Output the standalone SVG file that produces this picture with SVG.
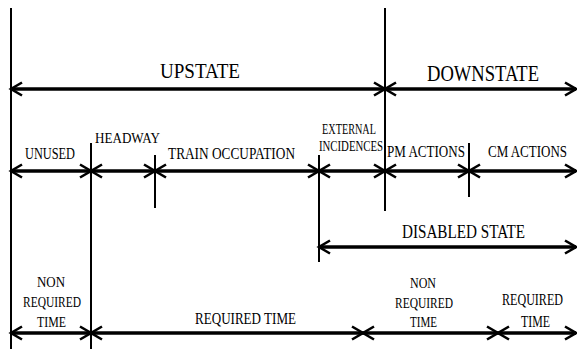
<svg xmlns="http://www.w3.org/2000/svg" width="577" height="349" viewBox="0 0 577 349">
<defs>
<marker id="ah" markerUnits="userSpaceOnUse" viewBox="-14 -9 16 18" refX="0" refY="0" markerWidth="16" markerHeight="18" orient="auto-start-reverse" overflow="visible">
<path d="M-11,-6.5 L0,0 L-11,6.5" fill="none" stroke="#000" stroke-width="2.6" stroke-linejoin="miter"/>
</marker>
<style>
.v{stroke:#000;stroke-width:2;fill:none}
.a{stroke:#000;stroke-width:3.4;fill:none;marker-start:url(#ah);marker-end:url(#ah)}
.t{font-family:"Liberation Serif","Times New Roman",serif;fill:#000}
</style>
</defs>
<rect width="577" height="349" fill="#fff"/>
<g id="boundaries">
<line class="v" x1="11" y1="8" x2="11" y2="349"/>
<line class="v" x1="385" y1="8" x2="385" y2="211"/>
<line class="v" x1="91" y1="143" x2="91" y2="349"/>
<line class="v" x1="155" y1="155" x2="155" y2="208"/>
<line class="v" x1="319" y1="155" x2="319" y2="262"/>
<line class="v" x1="469" y1="143" x2="469" y2="197"/>
</g>
<g id="connectors">
<line class="a" x1="11" y1="89" x2="385" y2="89"/>
<line class="a" x1="385" y1="89" x2="576" y2="89"/>
<line class="a" x1="11" y1="171" x2="91" y2="171"/>
<line class="a" x1="91" y1="171" x2="155" y2="171"/>
<line class="a" x1="155" y1="171" x2="319" y2="171"/>
<line class="a" x1="319" y1="171" x2="385" y2="171"/>
<line class="a" x1="385" y1="171" x2="469" y2="171"/>
<line class="a" x1="469" y1="171" x2="576" y2="171"/>
<line class="a" x1="319" y1="247" x2="576" y2="247"/>
<line class="a" x1="11" y1="333" x2="91" y2="333"/>
<line class="a" x1="91" y1="333" x2="363" y2="333"/>
<line class="a" x1="363" y1="333" x2="498" y2="333"/>
<line class="a" x1="498" y1="333" x2="576" y2="333"/>
</g>
<g class="t" font-family="Liberation Serif, Times New Roman, serif">
<g id="upstate"><text x="160" y="78" font-size="22" textLength="80" lengthAdjust="spacingAndGlyphs">UPSTATE</text></g>
<g id="downstate"><text x="427" y="81" font-size="23" textLength="112" lengthAdjust="spacingAndGlyphs">DOWNSTATE</text></g>
<g id="unused"><text x="25" y="159" font-size="16" textLength="50" lengthAdjust="spacingAndGlyphs">UNUSED</text></g>
<g id="headway"><text x="95" y="143" font-size="15" textLength="65" lengthAdjust="spacingAndGlyphs">HEADWAY</text></g>
<g id="train-occupation"><text x="168" y="159" font-size="16" textLength="127" lengthAdjust="spacingAndGlyphs">TRAIN OCCUPATION</text></g>
<g id="external-incidences">
<text x="322" y="134" font-size="14" textLength="54" lengthAdjust="spacingAndGlyphs">EXTERNAL</text>
<text x="319" y="151" font-size="14" textLength="64" lengthAdjust="spacingAndGlyphs">INCIDENCES</text>
</g>
<g id="pm-actions"><text x="387" y="157" font-size="17" textLength="78" lengthAdjust="spacingAndGlyphs">PM ACTIONS</text></g>
<g id="cm-actions"><text x="488" y="157" font-size="17" textLength="79" lengthAdjust="spacingAndGlyphs">CM ACTIONS</text></g>
<g id="disabled-state"><text x="402" y="238" font-size="19" textLength="123" lengthAdjust="spacingAndGlyphs">DISABLED STATE</text></g>
<g id="non-required-time-1">
<text x="37" y="287" font-size="15" textLength="28" lengthAdjust="spacingAndGlyphs">NON</text>
<text x="23" y="307" font-size="15" textLength="58" lengthAdjust="spacingAndGlyphs">REQUIRED</text>
<text x="37" y="327" font-size="15" textLength="29" lengthAdjust="spacingAndGlyphs">TIME</text>
</g>
<g id="required-time-1"><text x="195" y="324" font-size="17" textLength="101" lengthAdjust="spacingAndGlyphs">REQUIRED TIME</text></g>
<g id="non-required-time-2">
<text x="410" y="288" font-size="15" textLength="26" lengthAdjust="spacingAndGlyphs">NON</text>
<text x="395" y="308" font-size="15" textLength="58" lengthAdjust="spacingAndGlyphs">REQUIRED</text>
<text x="410" y="327" font-size="15" textLength="27" lengthAdjust="spacingAndGlyphs">TIME</text>
</g>
<g id="required-time-2">
<text x="502" y="305" font-size="17" textLength="61" lengthAdjust="spacingAndGlyphs">REQUIRED</text>
<text x="521" y="327" font-size="17" textLength="29" lengthAdjust="spacingAndGlyphs">TIME</text>
</g>
</g>
</svg>
